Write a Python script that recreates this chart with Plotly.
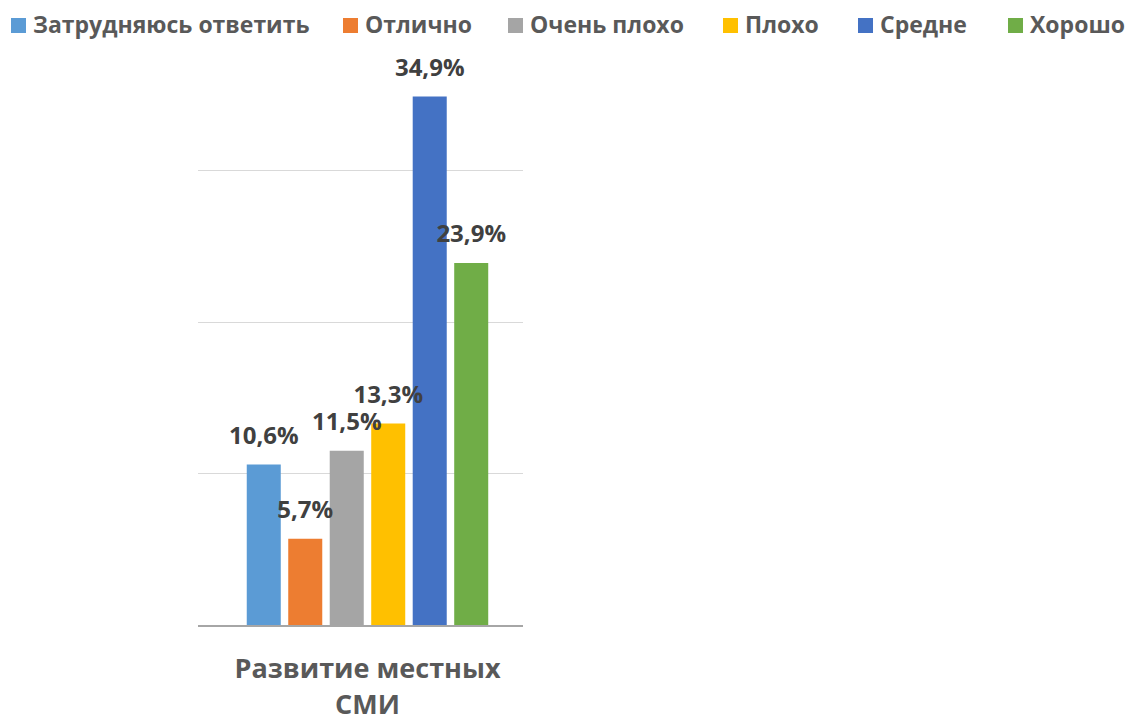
import plotly.graph_objects as go

category = ["Развитие местных<br>СМИ"]
series_names = ["Затрудняюсь ответить", "Отлично", "Очень плохо", "Плохо", "Средне", "Хорошо"]
series_values = [10.6, 5.7, 11.5, 13.3, 34.9, 23.9]
series_labels = ["10,6%", "5,7%", "11,5%", "13,3%", "34,9%", "23,9%"]
colors = ["#5B9BD5", "#ED7D31", "#A5A5A5", "#FFC000", "#4472C4", "#70AD47"]

FONT = "Open Sans"
BARGAP = 0.234

fig = go.Figure()
for name, val, col in zip(series_names, series_values, colors):
    fig.add_trace(go.Bar(
        name=name, x=category, y=[val], marker=dict(color=col, line=dict(width=0)),
        showlegend=False, hoverinfo="skip",
    ))
for name, val, lab in zip(series_names, series_values, series_labels):
    fig.add_trace(go.Scatter(
        name=name, x=category, y=[val], mode="markers+text", text=[lab],
        textposition="top center", cliponaxis=False, showlegend=False,
        marker=dict(size=22, opacity=0),
        textfont=dict(family=FONT, size=24, color="#404040", weight="bold"),
    ))

# legend drawn as squares + labels along the top (pixel layout -> paper coords)
W, H, L, R, T, B = 1131, 723, 198, 523, 95, 98
PW, PH = R - L, H - T - B
legend_x = [11, 343, 508, 723, 858, 1008]
for name, col, lx in zip(series_names, colors, legend_x):
    fig.add_shape(type="rect", xref="paper", yref="paper",
                  x0=(lx - L) / PW, x1=(lx + 15 - L) / PW,
                  y0=(H - B - 33) / PH, y1=(H - B - 18) / PH,
                  fillcolor=col, line=dict(width=0))
    fig.add_annotation(text=name, xref="paper", yref="paper",
                       x=(lx + 20 - L) / PW, y=(H - B - 24.5) / PH,
                       xanchor="left", yanchor="middle", showarrow=False,
                       font=dict(family=FONT, size=23, color="#595959", weight="bold"))

fig.update_layout(
    width=W, height=H,
    margin=dict(l=L, r=W - R, t=T, b=B, autoexpand=False),
    paper_bgcolor="white", plot_bgcolor="white",
    barmode="group", bargap=BARGAP, bargroupgap=0.18,
    scattermode="group", scattergap=BARGAP,
    showlegend=False,
    xaxis=dict(range=[-0.5215, 0.4785], showgrid=False, showline=True,
               linecolor="#A6A6A6", linewidth=2, ticks="", ticklabelstandoff=19,
               tickfont=dict(family=FONT, size=27, color="#595959", weight="bold")),
    yaxis=dict(range=[0, 35], dtick=10, showgrid=True, gridcolor="#D9D9D9", gridwidth=1,
               showticklabels=False, zeroline=False, showline=False),
)

fig.write_html("out.html")
